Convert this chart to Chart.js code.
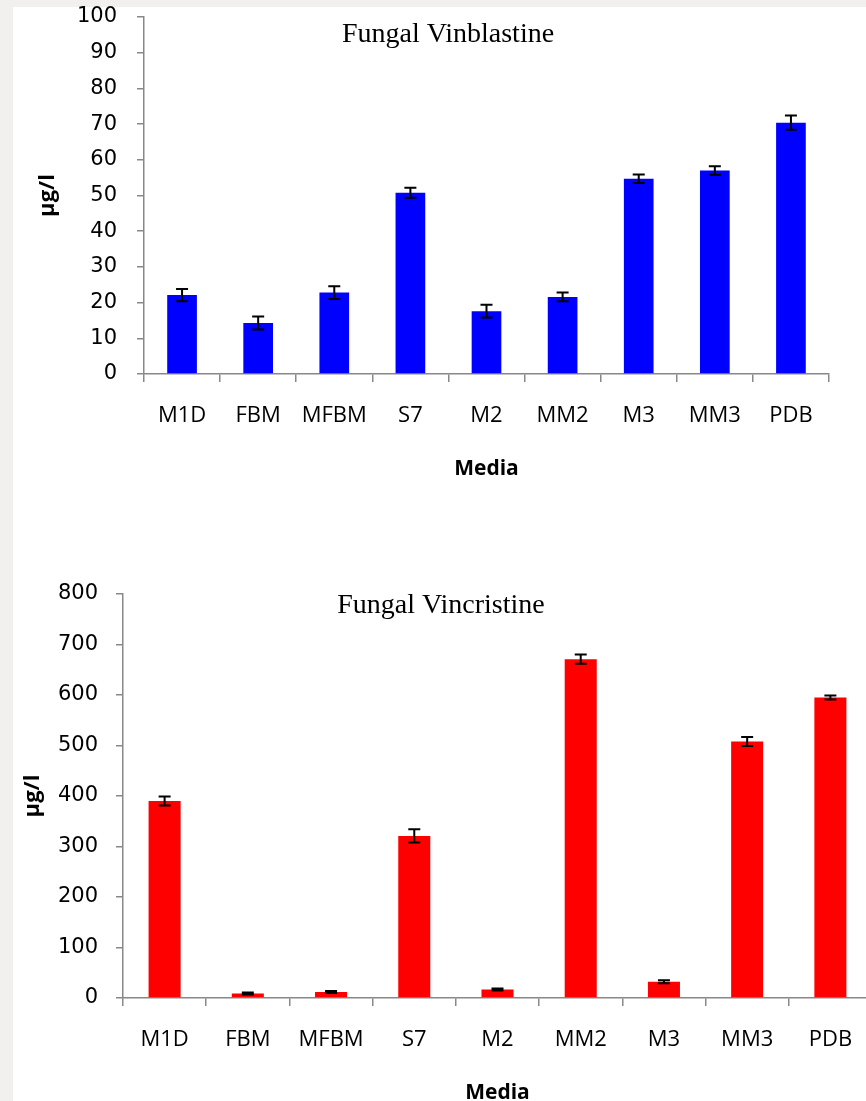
<!DOCTYPE html>
<html>
<head>
<meta charset="utf-8">
<script src="https://cdn.jsdelivr.net/npm/chart.js@4.4.1/dist/chart.umd.min.js"></script>
<style>
    html, body { margin: 0; padding: 0; width: 866px; height: 1101px; overflow: hidden; background: #f2f0ee; }
    .panel { position: absolute; left: 13px; top: 7px; right: 0; bottom: 0; background: #fff; }
    canvas { position: absolute; left: 0; }
    #vinblastineChart { top: 0; }
    #vincristineChart { top: 560px; }
</style>
</head>
<body>
<div class="panel"></div>
<canvas id="vinblastineChart" width="866" height="500"></canvas>
<canvas id="vincristineChart" width="880" height="564"></canvas>
<script>
    // Данные
    const media = ['M1D', 'FBM', 'MFBM', 'S7', 'M2', 'MM2', 'M3', 'MM3', 'PDB'];
    const media2 = ['M1D', 'FBM', 'MFBM', 'S7', 'M2', 'MM2', 'M3', 'MM3', 'PDB'];

    const vinblastine = [22.1, 14.3, 22.8, 50.8, 17.6, 21.6, 54.7, 57.0, 70.4];
    const vinblastineErr = [1.7, 1.8, 1.8, 1.4, 1.8, 1.2, 1.2, 1.2, 2.0];

    const vincristine = [390, 9, 12, 321, 17, 671, 32, 508, 595];
    const vincristineErr = [9, 2, 2, 13, 2, 9, 3, 9, 4];

    const axisGrey = '#888888';

    // Планки погрешностей
    const errorBars = {
        id: 'errorBars',
        afterDatasetsDraw(chart, args, opts) {
            const ctx = chart.ctx;
            const meta = chart.getDatasetMeta(0);
            const yScale = chart.scales.y;
            ctx.save();
            ctx.strokeStyle = '#000';
            ctx.lineWidth = 2;
            meta.data.forEach((bar, i) => {
                const v = chart.data.datasets[0].data[i];
                const e = opts.errors[i];
                const yTop = yScale.getPixelForValue(v + e);
                const yBot = yScale.getPixelForValue(v - e);
                ctx.beginPath();
                ctx.moveTo(bar.x, yTop);
                ctx.lineTo(bar.x, yBot);
                ctx.moveTo(bar.x - 6, yTop);
                ctx.lineTo(bar.x + 6, yTop);
                ctx.moveTo(bar.x - 6, yBot);
                ctx.lineTo(bar.x + 6, yBot);
                ctx.stroke();
            });
            ctx.restore();
        }
    };

    // Заголовок внутри области графика
    const innerTitle = {
        id: 'innerTitle',
        afterDraw(chart, args, opts) {
            const ctx = chart.ctx;
            ctx.save();
            ctx.font = '28px "Liberation Serif", "Times New Roman", serif';
            ctx.fillStyle = '#000';
            ctx.textAlign = 'center';
            ctx.textBaseline = 'alphabetic';
            ctx.fillText(opts.text, opts.x, opts.y);
            ctx.restore();
        }
    };

    function makeChart(id, labels, values, errors, color, cfg) {
        const ctx = document.getElementById(id).getContext('2d');
        return new Chart(ctx, {
            type: 'bar',
            data: {
                labels: labels,
                datasets: [{
                    data: values,
                    backgroundColor: color,
                    borderWidth: 0,
                    barPercentage: cfg.barPct,
                    categoryPercentage: 1
                }]
            },
            options: {
                responsive: false,
                animation: false,
                devicePixelRatio: 1,
                layout: {
                    padding: { top: cfg.top, right: cfg.right, bottom: 0, left: 0 }
                },
                plugins: {
                    legend: { display: false },
                    tooltip: { enabled: false },
                    errorBars: { errors: errors },
                    innerTitle: { text: cfg.title, x: cfg.titleX, y: cfg.titleY }
                },
                scales: {
                    x: {
                        afterFit: s => { s.height = 126; },
                        grid: {
                            drawOnChartArea: false,
                            drawTicks: true,
                            tickLength: 8,
                            color: axisGrey,
                            lineWidth: 1.5,
                            offset: true
                        },
                        border: { display: true, color: axisGrey, width: 1.5 },
                        ticks: {
                            color: '#000',
                            padding: 21,
                            font: { family: '"Open Sans", sans-serif', size: 22 },
                            maxRotation: 0,
                            autoSkip: false
                        },
                        title: {
                            display: true,
                            text: 'Media',
                            color: '#000',
                            font: { family: '"Open Sans", sans-serif', size: 21, weight: 'bold' },
                            padding: { top: 0, bottom: 18 }
                        }
                    },
                    y: {
                        min: 0,
                        max: cfg.max,
                        afterFit: s => {
                            s.width = cfg.axisLeft;
                            s.paddingTop = 0;
                            s.paddingBottom = 0;
                        },
                        grid: {
                            drawOnChartArea: false,
                            drawTicks: true,
                            tickLength: 7,
                            color: axisGrey,
                            lineWidth: 1.5
                        },
                        border: { display: true, color: axisGrey, width: 1.5 },
                        ticks: {
                            stepSize: cfg.step,
                            color: '#000',
                            padding: cfg.tickPad,
                            font: { family: '"DejaVu Sans", sans-serif', size: 21 }
                        },
                        title: {
                            display: true,
                            text: 'μg/l',
                            color: '#000',
                            font: { family: '"Open Sans", sans-serif', size: 22, weight: 'bold' },
                            padding: { top: cfg.yTitlePad, bottom: 0 }
                        }
                    }
                }
            },
            plugins: [errorBars, innerTitle]
        });
    }

    makeChart('vinblastineChart', media, vinblastine, vinblastineErr, '#0000ff', {
        barPct: 0.39, top: 17, right: 37, max: 100, step: 10,
        axisLeft: 144, tickPad: 20, yTitlePad: 35,
        title: 'Fungal Vinblastine', titleX: 448, titleY: 42
    });

    makeChart('vincristineChart', media2, vincristine, vincristineErr, '#ff0000', {
        barPct: 0.385, top: 34, right: 8, max: 800, step: 100,
        axisLeft: 123, tickPad: 18, yTitlePad: 20,
        title: 'Fungal Vincristine', titleX: 441, titleY: 53
    });
</script>
</body>
</html>
